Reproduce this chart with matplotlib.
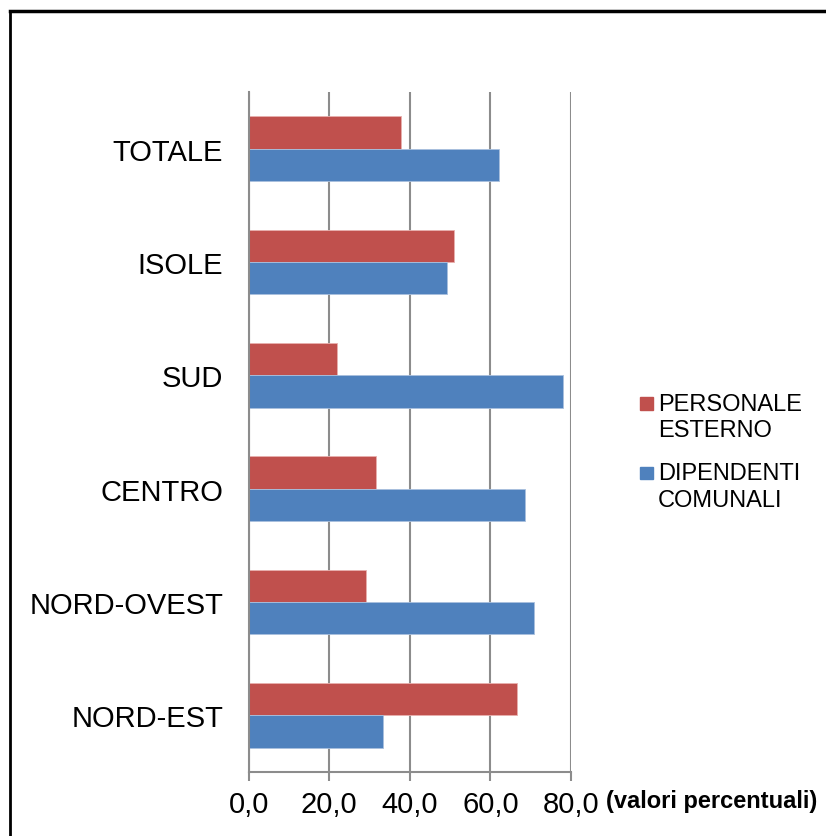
import matplotlib
matplotlib.use("Agg")
import matplotlib.pyplot as plt
from matplotlib.patches import Rectangle
from matplotlib.lines import Line2D
import numpy as np

plt.rcParams['font.family'] = ['Liberation Sans', 'DejaVu Sans']

categories = ["NORD-EST", "NORD-OVEST", "CENTRO", "SUD", "ISOLE", "TOTALE"]
personale_esterno = [66.6, 29.1, 31.5, 22.0, 50.9, 37.9]
dipendenti_comunali = [33.4, 70.9, 68.5, 78.0, 49.1, 62.1]
series_names = ["PERSONALE\nESTERNO", "DIPENDENTI\nCOMUNALI"]
series_colors = ["#C0504D", "#4F81BD"]
xticks = [0, 20, 40, 60, 80]
xtick_labels = ["0,0", "20,0", "40,0", "60,0", "80,0"]
unit_label = "(valori percentuali)"

W, H = 826, 837
fig = plt.figure(figsize=(W / 100, H / 100), dpi=100)
ax = fig.add_axes([248.7 / W, 1 - 773 / H, (571 - 248.7) / W, (773 - 93) / H])

y = np.arange(len(categories))
h = 0.286
ax.barh(y + h / 2, personale_esterno, height=h, color=series_colors[0],
        edgecolor='#e8b0ae', linewidth=0.6, zorder=3)
ax.barh(y - h / 2, dipendenti_comunali, height=h, color=series_colors[1],
        edgecolor='#a9c0de', linewidth=0.6, zorder=3)

ax.set_xlim(0, 80)
ax.set_ylim(-0.5, len(categories) - 0.5)
ax.set_yticks(y)
ax.set_yticklabels(categories, fontsize=21)
ax.tick_params(axis='y', length=0, pad=18.5)
ax.set_xticks(xticks)
ax.set_xticklabels(xtick_labels, fontsize=21)
ax.tick_params(axis='x', length=6.5, width=1.5, color='#8c8c8c', direction='out', pad=6.5)

grid_color = '#8c8c8c'
ax.grid(axis='x', color=grid_color, linewidth=1.5, zorder=1)
for s in ['top', 'right']:
    ax.spines[s].set_visible(False)
for s in ['left', 'bottom']:
    ax.spines[s].set_color(grid_color)
    ax.spines[s].set_linewidth(1.5)
ax.spines['left'].set_zorder(4)

fig.text(606 / W, 1 - 802 / H, unit_label, fontsize=17, fontweight='bold',
         ha='left', va='center')

# legend
sq = 12.7
leg_y = [[404.7, 431], [474, 501]]
for name, col, ys in zip(series_names, series_colors, leg_y):
    cy = ys[0]
    fig.patches.append(Rectangle((640 / W, 1 - (cy + sq / 2) / H), sq / W, sq / H,
                                 transform=fig.transFigure, color=col))
    for line, ly in zip(name.split("\n"), ys):
        fig.text(658 / W, 1 - ly / H, line, fontsize=17, ha='left', va='center')

# outer frame
fig.add_artist(Line2D([10 / W, 10 / W], [0, 1 - 12 / H], transform=fig.transFigure,
                      color='black', linewidth=2))
fig.add_artist(Line2D([10 / W, 1], [1 - 12 / H, 1 - 12 / H], transform=fig.transFigure,
                      color='black', linewidth=2.5))

fig.savefig("out.png", dpi=100)
